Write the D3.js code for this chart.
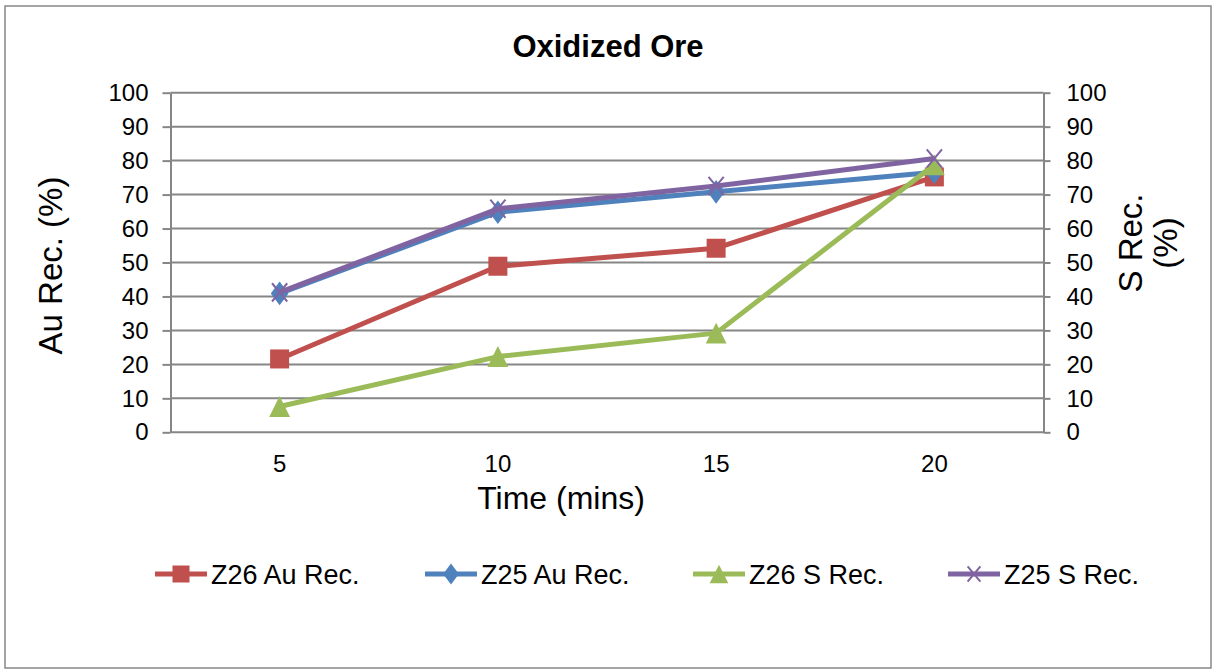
<!DOCTYPE html>
<html>
<head>
<meta charset="utf-8">
<script src="https://cdn.jsdelivr.net/npm/d3@7"></script>
<style>
  html, body { margin: 0; padding: 0; background: #fff; }
  svg { display: block; font-family: "Liberation Sans", Arial, sans-serif; }
</style>
</head>
<body>
<svg id="chart" width="1213" height="669"></svg>
<script>
// Recovery over time, two ores, Au on the left axis and S on the right axis
const times = ["5", "10", "15", "20"];
const z26Au = [21.6, 48.9, 54.2, 75.2];
const z25Au = [40.9, 64.8, 70.8, 76.6];
const z26S  = [7.6, 22.3, 29.2, 78.8];
const z25S  = [41.2, 65.8, 72.5, 80.6];
const yTicks = [0, 10, 20, 30, 40, 50, 60, 70, 80, 90, 100];

const series = [
  { name: "Z26 Au Rec.", values: z26Au, color: "#C0504D", marker: "square",   axis: "left" },
  { name: "Z25 Au Rec.", values: z25Au, color: "#4F81BD", marker: "diamond",  axis: "left" },
  { name: "Z26 S Rec.",  values: z26S,  color: "#9BBB59", marker: "triangle", axis: "right" },
  { name: "Z25 S Rec.",  values: z25S,  color: "#8064A2", marker: "cross",    axis: "right" }
];

const svg = d3.select("#chart");
const plot = { left: 170.5, right: 1043.5, top: 92.7, bottom: 432.3 };
const gridColor = "#868686";

// outer frame
svg.append("rect")
  .attr("x", 5).attr("y", 6).attr("width", 1206).attr("height", 662)
  .attr("fill", "#fff").attr("stroke", "#888").attr("stroke-width", 1.5);

const x = d3.scaleBand().domain(times).range([plot.left, plot.right]);
const yL = d3.scaleLinear().domain([0, 100]).range([plot.bottom, plot.top]);
const yR = d3.scaleLinear().domain([0, 100]).range([plot.bottom, plot.top]);

// gridlines
svg.append("g").selectAll("line").data(yTicks.filter(d => d > 0)).join("line")
  .attr("x1", plot.left).attr("x2", plot.right)
  .attr("y1", d => yL(d)).attr("y2", d => yL(d))
  .attr("stroke", gridColor).attr("stroke-width", 2);

// left axis
const gL = svg.append("g").attr("transform", `translate(${plot.left},0)`)
  .call(d3.axisLeft(yL).tickValues(yTicks).tickSize(8).tickPadding(14).tickSizeOuter(0));
// right axis
const gR = svg.append("g").attr("transform", `translate(${plot.right},0)`)
  .call(d3.axisRight(yR).tickValues(yTicks).tickSize(7).tickPadding(16).tickSizeOuter(0));
// bottom axis
const gB = svg.append("g").attr("transform", `translate(0,${plot.bottom})`)
  .call(d3.axisBottom(x).tickSize(0).tickPadding(23).tickSizeOuter(0));

[gL, gR, gB].forEach(g => {
  g.select(".domain").attr("stroke", gridColor).attr("stroke-width", 2);
  g.selectAll(".tick line").attr("stroke", gridColor).attr("stroke-width", 2);
  g.selectAll("text").attr("font-size", 24).attr("fill", "#000")
    .attr("font-family", "Liberation Sans, Arial, sans-serif");
});
gB.select(".domain").attr("d", `M${plot.left},0H${plot.right}`);

// titles
svg.append("text").attr("x", 608).attr("y", 57).attr("text-anchor", "middle")
  .attr("font-size", 31).attr("font-weight", "bold").text("Oxidized Ore");
svg.append("text").attr("transform", `translate(62,${(plot.top + plot.bottom) / 2 + 3}) rotate(-90)`)
  .attr("text-anchor", "middle").attr("font-size", 33).text("Au Rec. (%)");
const rt = svg.append("text").attr("transform", `translate(1142,243) rotate(-90)`)
  .attr("text-anchor", "middle").attr("font-size", 33);
rt.append("tspan").attr("x", 0).attr("dy", 0).text("S Rec.");
rt.append("tspan").attr("x", 0).attr("dy", 35).text("(%)");
svg.append("text").attr("x", 561).attr("y", 509).attr("text-anchor", "middle")
  .attr("font-size", 32).text("Time (mins)");

// marker shapes
function drawMarker(g, kind, cx, cy, color, s) {
  if (kind === "square") {
    g.append("rect").attr("x", cx - s / 2).attr("y", cy - s / 2)
      .attr("width", s).attr("height", s).attr("fill", color);
  } else if (kind === "diamond") {
    const h = s * 0.62;
    g.append("path").attr("d", `M${cx},${cy - h}L${cx + h * 0.75},${cy}L${cx},${cy + h}L${cx - h * 0.75},${cy}Z`)
      .attr("fill", color);
  } else if (kind === "triangle") {
    const h = s * 0.55;
    g.append("path").attr("d", `M${cx},${cy - h}L${cx + h},${cy + h}L${cx - h},${cy + h}Z`)
      .attr("fill", color);
  } else if (kind === "cross") {
    const h = s * 0.4;
    g.append("path").attr("d", `M${cx - h},${cy - h * 1.2}L${cx + h},${cy + h * 1.2}M${cx + h},${cy - h * 1.2}L${cx - h},${cy + h * 1.2}`)
      .attr("stroke", color).attr("stroke-width", 2).attr("fill", "none");
  }
}

const cx = d => x(d) + x.bandwidth() / 2;
series.forEach(s => {
  const y = s.axis === "left" ? yL : yR;
  const g = svg.append("g");
  const line = d3.line().x((d, i) => cx(times[i])).y(d => y(d));
  g.append("path").datum(s.values).attr("d", line)
    .attr("fill", "none").attr("stroke", s.color).attr("stroke-width", 5)
    .attr("stroke-linejoin", "round");
  s.values.forEach((v, i) => drawMarker(g, s.marker, cx(times[i]), y(v), s.color, 19));
});

// legend
const legendX = [155, 425, 693, 948];
const legendY = 574;
series.forEach((s, i) => {
  const g = svg.append("g");
  const x0 = legendX[i];
  g.append("line").attr("x1", x0).attr("x2", x0 + 52).attr("y1", legendY).attr("y2", legendY)
    .attr("stroke", s.color).attr("stroke-width", 5);
  drawMarker(g, s.marker, x0 + 26, legendY, s.color, s.marker === "cross" ? 16 : 17);
  g.append("text").attr("x", x0 + 56).attr("y", legendY + 10).attr("font-size", 27).text(s.name);
});
</script>
</body>
</html>
